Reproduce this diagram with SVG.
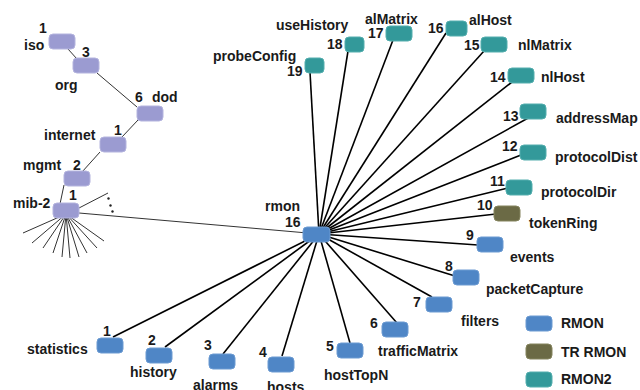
<svg xmlns="http://www.w3.org/2000/svg" width="640" height="390" viewBox="0 0 640 390">
  <style>
    text { font-family: "Liberation Sans", Arial, sans-serif; font-size: 14px; font-weight: bold; fill: #1a1a1a; }
    .box { stroke-width: 1; }
    .tree { fill: #9b9bd1; stroke: #b4b4de; }
    .rmon1 { fill: #4f86c6; stroke: #6c9bd2; }
    .tr { fill: #6b6a45; stroke: #85845e; }
    .rmon2 { fill: #33999a; stroke: #54aeae; }
    .link { stroke: #000; stroke-width: 1.6; fill: none; }
    .thin { stroke: #333; stroke-width: 1; fill: none; }
  </style>

  <!-- connectors -->
  <g id="connectors">
    <!-- registration tree path -->
    <line class="thin" x1="68" y1="49" x2="77" y2="59"/>
    <line class="thin" x1="97" y1="73" x2="137" y2="107"/>
    <line class="thin" x1="138" y1="120" x2="122" y2="137"/>
    <line class="thin" x1="100" y1="152" x2="82" y2="172"/>
    <line class="thin" x1="64" y1="185" x2="60" y2="204"/>
    <!-- other mib-2 branches -->
    <line class="thin" x1="66" y1="214" x2="23" y2="233"/>
    <line class="thin" x1="66" y1="214" x2="32" y2="243"/>
    <line class="thin" x1="66" y1="214" x2="43" y2="248"/>
    <line class="thin" x1="66" y1="214" x2="53" y2="253"/>
    <line class="thin" x1="66" y1="214" x2="62" y2="257"/>
    <line class="thin" x1="66" y1="214" x2="70" y2="258"/>
    <line class="thin" x1="66" y1="214" x2="79" y2="257"/>
    <line class="thin" x1="66" y1="214" x2="87" y2="253"/>
    <line class="thin" x1="66" y1="214" x2="97" y2="248"/>
    <line class="thin" x1="66" y1="214" x2="104" y2="241"/>
    <line class="thin" x1="79" y1="208" x2="108" y2="193"/>
    <circle cx="108.5" cy="198.5" r="1.2" fill="#222"/>
    <circle cx="110.5" cy="205.5" r="1.2" fill="#222"/>
    <circle cx="112.5" cy="211.5" r="1.2" fill="#222"/>
    <!-- mib-2 to rmon -->
    <line class="thin" x1="79" y1="213" x2="319" y2="234"/>
    <!-- rmon groups -->
    <line class="link" x1="319" y1="234" x2="113" y2="337"/>
    <line class="link" x1="319" y1="234" x2="165" y2="347"/>
    <line class="link" x1="319" y1="234" x2="223" y2="354"/>
    <line class="link" x1="319" y1="234" x2="282" y2="356"/>
    <line class="link" x1="319" y1="234" x2="350" y2="343"/>
    <line class="link" x1="319" y1="234" x2="397" y2="323"/>
    <line class="link" x1="319" y1="234" x2="432" y2="297"/>
    <line class="link" x1="319" y1="234" x2="455" y2="276"/>
    <line class="link" x1="319" y1="234" x2="478" y2="245"/>
    <line class="link" x1="319" y1="234" x2="496" y2="214"/>
    <line class="link" x1="319" y1="234" x2="508" y2="188"/>
    <line class="link" x1="319" y1="234" x2="521" y2="155"/>
    <line class="link" x1="319" y1="234" x2="530" y2="117"/>
    <line class="link" x1="319" y1="234" x2="512" y2="82"/>
    <line class="link" x1="319" y1="234" x2="484" y2="51"/>
    <line class="link" x1="319" y1="234" x2="446" y2="33"/>
    <line class="link" x1="319" y1="234" x2="393" y2="40"/>
    <line class="link" x1="319" y1="234" x2="348" y2="51"/>
    <line class="link" x1="319" y1="234" x2="310" y2="72"/>
  </g>

  <!-- registration tree -->
  <g id="iso"><rect class="box tree" x="49" y="34" width="26" height="15" rx="4"/><text x="39" y="33">1</text><text x="24" y="50">iso</text></g>
  <g id="org"><rect class="box tree" x="73" y="58" width="26" height="15" rx="4"/><text x="82" y="57">3</text><text x="55" y="90">org</text></g>
  <g id="dod"><rect class="box tree" x="137" y="106" width="26" height="15" rx="4"/><text x="135" y="102">6</text><text x="152" y="102">dod</text></g>
  <g id="internet"><rect class="box tree" x="100" y="137" width="26" height="15" rx="4"/><text x="114" y="135">1</text><text x="44" y="140">internet</text></g>
  <g id="mgmt"><rect class="box tree" x="64" y="171" width="26" height="15" rx="4"/><text x="73" y="170">2</text><text x="23" y="170">mgmt</text></g>
  <g id="mib-2"><rect class="box tree" x="53" y="203" width="26" height="15" rx="4"/><text x="69" y="200">1</text><text x="13" y="208">mib-2</text></g>

  <!-- rmon -->
  <g id="rmon"><rect class="box rmon1" x="303" y="227" width="27" height="15" rx="4"/><text x="265" y="211">rmon</text><text x="285" y="227">16</text></g>

  <!-- RMON groups -->
  <g id="statistics"><rect class="box rmon1" x="97" y="338" width="26" height="15" rx="4"/><text x="103" y="336">1</text><text x="27" y="354">statistics</text></g>
  <g id="history"><rect class="box rmon1" x="146" y="348" width="26" height="15" rx="4"/><text x="148" y="345">2</text><text x="130" y="377">history</text></g>
  <g id="alarms"><rect class="box rmon1" x="209" y="354" width="26" height="15" rx="4"/><text x="204" y="350">3</text><text x="193" y="390">alarms</text></g>
  <g id="hosts"><rect class="box rmon1" x="268" y="357" width="26" height="15" rx="4"/><text x="259" y="357">4</text><text x="267" y="392">hosts</text></g>
  <g id="hostTopN"><rect class="box rmon1" x="337" y="343" width="26" height="15" rx="4"/><text x="326" y="351">5</text><text x="324" y="380">hostTopN</text></g>
  <g id="trafficMatrix"><rect class="box rmon1" x="382" y="322" width="26" height="15" rx="4"/><text x="370" y="328">6</text><text x="378" y="356">trafficMatrix</text></g>
  <g id="filters"><rect class="box rmon1" x="426" y="297" width="26" height="15" rx="4"/><text x="413" y="307">7</text><text x="461" y="326">filters</text></g>
  <g id="packetCapture"><rect class="box rmon1" x="453" y="270" width="26" height="15" rx="4"/><text x="445" y="271">8</text><text x="486" y="294">packetCapture</text></g>
  <g id="events"><rect class="box rmon1" x="477" y="237" width="26" height="15" rx="4"/><text x="466" y="240">9</text><text x="510" y="262">events</text></g>
  <g id="tokenRing"><rect class="box tr" x="494" y="206" width="26" height="15" rx="4"/><text x="477" y="210">10</text><text x="529" y="228">tokenRing</text></g>

  <!-- RMON2 groups -->
  <g id="protocolDir"><rect class="box rmon2" x="506" y="180" width="26" height="15" rx="4"/><text x="490" y="186">11</text><text x="541" y="197">protocolDir</text></g>
  <g id="protocolDist"><rect class="box rmon2" x="520" y="145" width="26" height="15" rx="4"/><text x="502" y="151">12</text><text x="555" y="162">protocolDist</text></g>
  <g id="addressMap"><rect class="box rmon2" x="520" y="104" width="26" height="15" rx="4"/><text x="503" y="121">13</text><text x="556" y="123">addressMap</text></g>
  <g id="nlHost"><rect class="box rmon2" x="508" y="68" width="26" height="15" rx="4"/><text x="490" y="82">14</text><text x="541" y="82">nlHost</text></g>
  <g id="nlMatrix"><rect class="box rmon2" x="481" y="37" width="26" height="15" rx="4"/><text x="464" y="50">15</text><text x="518" y="50">nlMatrix</text></g>
  <g id="alHost"><rect class="box rmon2" x="446" y="21" width="21" height="15" rx="4"/><text x="428" y="33">16</text><text x="469" y="25">alHost</text></g>
  <g id="alMatrix"><rect class="box rmon2" x="386" y="26" width="26" height="15" rx="4"/><text x="368" y="38">17</text><text x="365" y="24">alMatrix</text></g>
  <g id="useHistory"><rect class="box rmon2" x="345" y="37" width="19" height="15" rx="4"/><text x="327" y="49">18</text><text x="276" y="30">useHistory</text></g>
  <g id="probeConfig"><rect class="box rmon2" x="305" y="58" width="19" height="15" rx="4"/><text x="287" y="76">19</text><text x="213" y="61">probeConfig</text></g>

  <!-- legend -->
  <g id="legend">
    <rect class="box rmon1" x="526" y="316" width="26" height="15" rx="4"/><text x="561" y="328">RMON</text>
    <rect class="box tr" x="526" y="344" width="26" height="15" rx="4"/><text x="561" y="357">TR RMON</text>
    <rect class="box rmon2" x="526" y="372" width="26" height="15" rx="4"/><text x="561" y="384">RMON2</text>
  </g>
</svg>
